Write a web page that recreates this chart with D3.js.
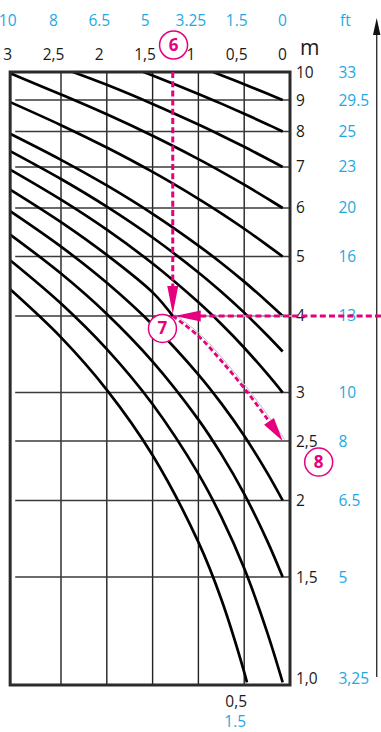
<!DOCTYPE html>
<html>
<head>
<meta charset="utf-8">
<script src="https://cdn.jsdelivr.net/npm/d3@7"></script>
<style>
  html, body { margin: 0; padding: 0; background: #fff; }
  svg { display: block; }
  text { font-family: "Open Sans", "Noto Sans", sans-serif; }
</style>
</head>
<body>
<svg id="chart" width="381" height="732"></svg>
<script>
// ---------- data ----------
const xTicks = [3, 2.5, 2, 1.5, 1, 0.5, 0];
const xTickLabels = ["3", "2,5", "2", "1,5", "1", "0,5", "0"];
const xFtLabels = ["10", "8", "6.5", "5", "3.25", "1.5", "0"];
const xUnit = "m";
const xFtUnit = "ft";

const yTicks = [10, 9, 8, 7, 6, 5, 4, 3, 2.5, 2, 1.5, 1];
const yTickLabels = ["10", "9", "8", "7", "6", "5", "4", "3", "2,5", "2", "1,5", "1,0"];
const yFtLabels = ["33", "29.5", "25", "23", "20", "16", "13", "10", "8", "6.5", "5", "3,25"];

const bottomTick = 0.5;
const bottomTickLabel = "0,5";
const bottomFtLabel = "1.5";

// curves: [distance m, height m]
const curve9 = [[0.84, 10], [0.75, 9.88], [0.5, 9.55], [0.25, 9.22], [0.08, 9]];
const curve8 = [[1.6, 10], [1.5, 9.87], [1.0, 9.21], [0.75, 8.88], [0.5, 8.55], [0.25, 8.22], [0.08, 8]];
const curve7 = [[2.37, 10], [2.0, 9.53], [1.5, 8.87], [1.0, 8.21], [0.75, 7.88], [0.5, 7.55], [0.25, 7.22], [0.08, 7]];
const curve6 = [[3.055, 9.95], [2.5, 9.19], [2.0, 8.53], [1.5, 7.87], [1.0, 7.21], [0.75, 6.88], [0.5, 6.55], [0.25, 6.22], [0.08, 6]];
const curve5 = [[3.055, 8.93], [2.5, 8.19], [2.0, 7.53], [1.5, 6.87], [1.0, 6.21], [0.75, 5.88], [0.5, 5.55], [0.25, 5.22], [0.08, 5]];
const curve4 = [[3.055, 7.93], [2.5, 7.19], [2.0, 6.53], [1.5, 5.87], [1.0, 5.21], [0.75, 4.88], [0.5, 4.55], [0.25, 4.22], [0.08, 4]];
const curve35 = [[3.055, 7.43], [2.5, 6.69], [2.0, 6.03], [1.5, 5.37], [1.0, 4.71], [0.75, 4.38], [0.5, 4.05], [0.25, 3.72], [0.08, 3.5]];
const curve3 = [[3.055, 6.93], [2.5, 6.19], [2.0, 5.53], [1.5, 4.87], [1.0, 4.21], [0.75, 3.88], [0.5, 3.55], [0.25, 3.22], [0.08, 3]];
const curve25 = [[3.055, 6.43], [2.5, 5.69], [2.0, 5.03], [1.5, 4.37], [1.28, 4.0]];
const curve2 = [[3.055, 5.93], [2.5, 5.19], [2.0, 4.53], [1.5, 3.87], [1.0, 3.21], [0.75, 2.88], [0.5, 2.55], [0.25, 2.22], [0.08, 2]];
const curve15 = [[3.055, 5.43], [2.5, 4.69], [2.0, 4.03], [1.5, 3.37], [1.0, 2.71], [0.75, 2.38], [0.5, 2.05], [0.25, 1.72], [0.08, 1.5]];
const curve1 = [[3.055, 4.93], [2.5, 4.19], [2.0, 3.53], [1.5, 2.87], [1.0, 2.21], [0.75, 1.88], [0.5, 1.55], [0.25, 1.22], [0.08, 1.01]];
const curve05 = [[3.055, 4.42], [2.5, 3.69], [2.0, 3.03], [1.5, 2.37], [1.0, 1.71], [0.75, 1.38], [0.5, 1.05], [0.47, 1.01]];

// example reading (pink)
const guideX = 1.28;      // step 6: distance
const guideY = 4.0;       // height read on right scale
const guidePath = [[1.28, 4.0], [1.0, 3.71], [0.75, 3.38], [0.5, 3.05], [0.25, 2.72], [0.08, 2.5]];
const stepLabels = ["6", "7", "8"];

// ---------- layout ----------
const PINK = "#e6007e";
const BLUE = "#1fa8e1";
const INK = "#1a1a1a";

const svg = d3.select("#chart");
const x = d3.scaleLinear().domain([3, 0]).range([15.2, 290]);
const y = d3.scaleLog().domain([1, 10]).range([685, 72]);
const boxLeft = x(3.055), boxRight = x(0), boxTop = y(10), boxBottom = y(1);

const g = svg.append("g");

// grid - vertical
g.selectAll(".vgrid").data(xTicks.filter(t => t > 0 && t < 3)).join("line")
  .attr("x1", d => x(d)).attr("x2", d => x(d))
  .attr("y1", boxTop).attr("y2", boxBottom)
  .attr("stroke", "#222").attr("stroke-width", 1.4);

// grid - horizontal
g.selectAll(".hgrid").data(yTicks.filter(t => t > 1 && t < 10)).join("line")
  .attr("x1", x(3)).attr("x2", boxRight)
  .attr("y1", d => y(d)).attr("y2", d => y(d))
  .attr("stroke", "#3a3a3a").attr("stroke-width", 1.5);

// curves
const line = d3.line().x(d => x(d[0])).y(d => y(d[1])).curve(d3.curveCatmullRom.alpha(0.5));
const curves = [curve9, curve8, curve7, curve6, curve5, curve4, curve35, curve3, curve25, curve2, curve15, curve1, curve05];
g.selectAll(".curve").data(curves).join("path")
  .attr("d", line)
  .attr("fill", "none").attr("stroke", "#000").attr("stroke-width", 2.7)
  .attr("stroke-linecap", "butt");

// box
g.append("rect")
  .attr("x", boxLeft).attr("y", boxTop)
  .attr("width", boxRight - boxLeft).attr("height", boxBottom - boxTop)
  .attr("fill", "none").attr("stroke", "#2b2b2b").attr("stroke-width", 3);

// ---------- labels ----------
const labelDX = -7.5;
const fs = 15.5;

g.selectAll(".xlab").data(xTicks).join("text")
  .attr("x", d => x(d) + labelDX).attr("y", 60)
  .attr("text-anchor", "middle").attr("font-size", fs).attr("fill", INK)
  .text((d, i) => xTickLabels[i]);

g.selectAll(".xft").data(xTicks).join("text")
  .attr("x", d => x(d) + labelDX).attr("y", 25.5)
  .attr("text-anchor", "middle").attr("font-size", fs).attr("fill", BLUE)
  .text((d, i) => xFtLabels[i]);

g.append("text").attr("x", 300).attr("y", 55).attr("font-size", 21).attr("fill", INK).text(xUnit);
g.append("text").attr("x", 340).attr("y", 25.5).attr("font-size", fs).attr("fill", BLUE).text(xFtUnit);

const yLabPos = d => Math.min(Math.max(y(d), boxTop - 1.5), boxBottom - 7) + 5.5;
g.selectAll(".ylab").data(yTicks).join("text")
  .attr("x", 296).attr("y", yLabPos)
  .attr("font-size", fs).attr("fill", INK)
  .text((d, i) => yTickLabels[i]);

g.selectAll(".yft").data(yTicks).join("text")
  .attr("x", 338.5).attr("y", yLabPos)
  .attr("font-size", fs).attr("fill", BLUE)
  .text((d, i) => yFtLabels[i]);

g.append("text").attr("x", x(bottomTick) + labelDX - 0.5).attr("y", 707)
  .attr("text-anchor", "middle").attr("font-size", fs).attr("fill", INK).text(bottomTickLabel);
g.append("text").attr("x", x(bottomTick) + labelDX - 1.5).attr("y", 727)
  .attr("text-anchor", "middle").attr("font-size", fs).attr("fill", BLUE).text(bottomFtLabel);

// right vertical arrow
g.append("line").attr("x1", 376.7).attr("x2", 376.7).attr("y1", 33).attr("y2", 677)
  .attr("stroke", "#333").attr("stroke-width", 1.4);
g.append("path").attr("d", "M376.7,18 L380.4,35 L373,35 Z").attr("fill", "#111");

// ---------- pink example ----------
const px = x(guideX), py = y(guideY);
const dash = "6,3.2";

// faint gray companion line
g.append("path").attr("d", line(guidePath)).attr("transform", "translate(2,-1.5)")
  .attr("fill", "none").attr("stroke", "#bdbdbd").attr("stroke-width", 1);
g.append("line").attr("x1", px + 20).attr("x2", boxRight + 3).attr("y1", py).attr("y2", py)
  .attr("stroke", "#c4c4c4").attr("stroke-width", 1.6);

// vertical dashed
g.append("line").attr("x1", px).attr("x2", px).attr("y1", boxTop).attr("y2", py - 28)
  .attr("stroke", PINK).attr("stroke-width", 3).attr("stroke-dasharray", dash);
g.append("path").attr("d", `M${px},${py - 2} L${px - 5.5},${py - 30} L${px + 5.5},${py - 30} Z`).attr("fill", PINK);

// horizontal dashed
g.append("line").attr("x1", 381).attr("x2", px + 26).attr("y1", py).attr("y2", py)
  .attr("stroke", PINK).attr("stroke-width", 3).attr("stroke-dasharray", dash);
g.append("path").attr("d", `M${px + 2},${py} L${px + 28},${py - 5.5} L${px + 28},${py + 5.5} Z`).attr("fill", PINK);

// curved dashed arrow
g.append("path").attr("d", line(guidePath.slice(0, 5).concat([[0.17, 2.62]])))
  .attr("fill", "none").attr("stroke", PINK).attr("stroke-width", 2.8).attr("stroke-dasharray", "5,3");
{
  const tip = [x(0.08), y(2.5)];
  const back = [x(0.25), y(2.72)];
  let dx = tip[0] - back[0], dy = tip[1] - back[1];
  const L = Math.hypot(dx, dy); dx /= L; dy /= L;
  const len = 24, hw = 6;
  const bx = tip[0] - dx * len, by = tip[1] - dy * len;
  g.append("path")
    .attr("d", `M${tip[0]},${tip[1]} L${bx - dy * hw},${by + dx * hw} L${bx + dy * hw},${by - dx * hw} Z`)
    .attr("fill", PINK);
}

// step circles
const steps = [
  { cx: px + 0.8, cy: 45, t: stepLabels[0] },
  { cx: px - 10.3, cy: py + 12.5, t: stepLabels[1] },
  { cx: x(0.08) + 36, cy: y(2.5) + 21, t: stepLabels[2] }
];
const sg = g.selectAll(".step").data(steps).join("g");
sg.append("circle").attr("cx", d => d.cx).attr("cy", d => d.cy).attr("r", 14)
  .attr("fill", "#fff").attr("stroke", PINK).attr("stroke-width", 1.5);
sg.append("text").attr("x", d => d.cx).attr("y", d => d.cy + 6)
  .attr("text-anchor", "middle").attr("font-size", 17).attr("font-weight", "bold")
  .attr("fill", PINK).text(d => d.t);
</script>
</body>
</html>
